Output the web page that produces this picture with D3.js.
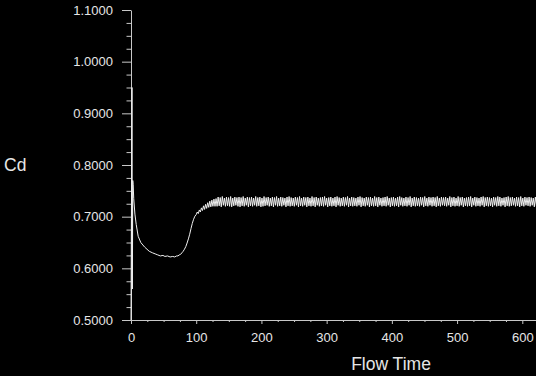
<!DOCTYPE html>
<html><head><meta charset="utf-8">
<script src="https://cdn.jsdelivr.net/npm/d3@7"></script>
<style>html,body{margin:0;padding:0;background:#000;}svg{display:block;}</style>
</head><body>
<svg id="chart" width="536" height="376"></svg>
<script>
// ---- data ----
const yMajorTicks = [0.5, 0.6, 0.7, 0.8, 0.9, 1.0, 1.1];
const xMajorTicks = [0, 100, 200, 300, 400, 500, 600];
const xTitle = "Flow Time";
const yTitle = "Cd";
// initial transient (time, Cd)
const transientTime = [0, 1.5, 2.1, 2.7, 3.3, 4.2, 6, 8, 11, 15, 21, 28, 33, 37, 41, 45, 49, 52, 56, 60, 64, 67, 70, 72, 74, 76, 78, 80, 82, 84, 86, 88, 90, 92, 94, 96, 98];
const transientCd   = [0.50, 0.95, 0.56, 0.77, 0.762, 0.735, 0.705, 0.685, 0.662, 0.650, 0.641, 0.633, 0.630, 0.628, 0.626, 0.624, 0.625, 0.623, 0.624, 0.622, 0.623, 0.622, 0.624, 0.624, 0.626, 0.627, 0.630, 0.633, 0.637, 0.642, 0.649, 0.657, 0.666, 0.677, 0.687, 0.695, 0.701];
// oscillating part, sampled every 1.6 time units from t = 100
const oscStart = 100, oscStep = 1.6;
const oscCd = [
 0.704,0.709,0.706,0.713,0.709,0.717,0.712,0.721,0.714,0.724,
 0.716,0.727,0.718,0.730,0.719,0.732,0.720,0.734,0.720,0.735,
 0.720,0.738,0.721,0.737,0.719,0.739,0.722,0.736,0.720,0.738,
 0.721,0.737,0.720,0.739,0.719,0.736,0.721,0.738,0.722,0.737,
 0.720,0.738,0.719,0.737,0.721,0.739,0.720,0.736,0.722,0.738,
 0.719,0.737,0.721,0.738,0.720,0.736,0.722,0.739,0.720,0.737,
 0.721,0.738,0.719,0.736,0.720,0.739,0.721,0.737,0.722,0.738,
 0.720,0.736,0.721,0.738,0.719,0.737,0.722,0.739,0.720,0.736,
 0.721,0.738,0.720,0.737,0.722,0.736,0.719,0.738,0.721,0.739,
 0.720,0.737,0.721,0.736,0.720,0.738,0.722,0.737,0.719,0.739,
 0.721,0.736,0.720,0.738,0.722,0.737,0.719,0.738,0.721,0.736,
 0.720,0.739,0.721,0.737,0.719,0.738,0.722,0.736,0.720,0.737,
 0.721,0.738,0.720,0.739,0.722,0.736,0.719,0.737,0.721,0.738,
 0.720,0.736,0.721,0.738,0.719,0.739,0.722,0.737,0.720,0.736,
 0.721,0.738,0.720,0.737,0.722,0.739,0.719,0.736,0.721,0.738,
 0.720,0.737,0.721,0.736,0.720,0.738,0.722,0.739,0.719,0.737,
 0.721,0.736,0.720,0.738,0.722,0.737,0.719,0.738,0.721,0.736,
 0.720,0.739,0.721,0.737,0.719,0.738,0.722,0.736,0.720,0.737,
 0.721,0.738,0.720,0.739,0.722,0.736,0.719,0.737,0.721,0.738,
 0.720,0.736,0.721,0.738,0.719,0.739,0.722,0.737,0.720,0.736,
 0.721,0.738,0.720,0.737,0.722,0.739,0.719,0.736,0.721,0.738,
 0.720,0.737,0.721,0.736,0.720,0.738,0.722,0.737,0.719,0.739,
 0.721,0.736,0.720,0.738,0.722,0.737,0.720,0.738,0.721,0.737,
 0.719,0.739,0.721,0.736,0.720,0.738,0.722,0.737,0.721,0.738,
 0.720,0.736,0.722,0.739,0.719,0.737,0.721,0.738,0.720,0.736,
 0.721,0.739,0.720,0.737,0.722,0.738,0.719,0.736,0.721,0.737,
 0.720,0.738,0.721,0.739,0.719,0.736,0.722,0.738,0.720,0.737,
 0.721,0.736,0.720,0.738,0.722,0.739,0.719,0.737,0.721,0.738,
 0.720,0.737,0.721,0.736,0.719,0.738,0.722,0.737,0.720,0.739,
 0.721,0.738,0.720,0.736,0.722,0.737,0.719,0.738,0.721,0.739,
 0.720,0.737,0.721,0.738,0.722,0.736,0.720,0.738,0.721,0.737,
 0.719,0.739,0.721,0.736,0.720,0.738,0.722,0.737,0.721,0.738,
 0.720,0.737,0.722,0.736,0.719,0.738,0.721,0.739,0.720,0.737,
 0.721,0.736,0.720,0.738,0.722,0.737,0.719,0.739,0.721,0.738
];

// ---- chart ----
const svg = d3.select("#chart");
const x = d3.scaleLinear().domain([0, 621]).range([131, 536]);
const y = d3.scaleLinear().domain([0.5, 1.1]).range([320, 10]);
const axisColor = "#c8c8c8", textColor = "#e6e6e6";
const font = "'Liberation Sans', Arial, sans-serif";

const pts = transientTime.map((t, i) => [t, transientCd[i]])
  .concat(oscCd.map((v, i) => [oscStart + i * oscStep, v]));

const yMinor = d3.range(0.5, 1.1001, 0.025).filter(v => !yMajorTicks.some(m => Math.abs(m - v) < 1e-6));
const xMinor = d3.range(0, 621, 25).filter(v => v % 100 !== 0);

const gy = svg.append("g").attr("transform", `translate(${x(0)},0)`);
gy.call(d3.axisLeft(y).tickValues(yMinor).tickSize(4.5).tickSizeOuter(0).tickFormat(""));
gy.call(g => g.selectAll(".domain").remove());
const gy2 = svg.append("g").attr("transform", `translate(${x(0)},0)`);
gy2.call(d3.axisLeft(y).tickValues(yMajorTicks).tickSize(9).tickSizeOuter(0).tickPadding(9).tickFormat(d3.format(".4f")));

const gx = svg.append("g").attr("transform", `translate(0,${y(0.5)})`);
gx.call(d3.axisBottom(x).tickValues(xMinor).tickSize(2).tickSizeOuter(0).tickFormat(""));
gx.call(g => g.selectAll(".domain").remove());
const gx2 = svg.append("g").attr("transform", `translate(0,${y(0.5)})`);
gx2.call(d3.axisBottom(x).tickValues(xMajorTicks).tickSize(4).tickSizeOuter(0).tickPadding(9).tickFormat(d3.format("d")));

svg.selectAll(".domain, .tick line").attr("stroke", axisColor).attr("stroke-width", 1);
svg.selectAll(".tick text").attr("fill", textColor).style("font-family", font).style("font-size", "13px");

svg.append("path").datum(pts)
  .attr("d", d3.line().x(d => x(d[0])).y(d => y(d[1])))
  .attr("fill", "none").attr("stroke", "#f0f0f0").attr("stroke-width", 1);

svg.append("text").attr("x", 391).attr("y", 370).attr("text-anchor", "middle")
  .attr("fill", textColor).style("font-family", font).style("font-size", "17.5px").text(xTitle);
svg.append("text").attr("x", 4).attr("y", 171).attr("text-anchor", "start")
  .attr("fill", textColor).style("font-family", font).style("font-size", "17.5px").text(yTitle);
</script>
</body></html>
